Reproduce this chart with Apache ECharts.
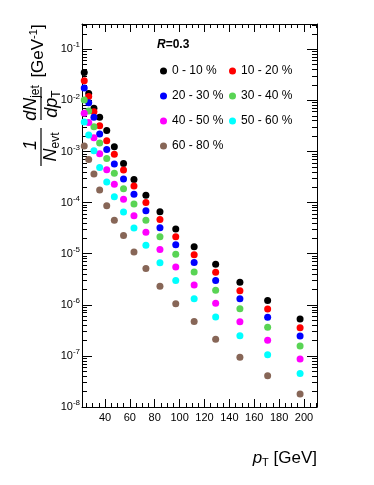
<!DOCTYPE html>
<html>
<head>
<meta charset="utf-8">
<script src="https://cdn.jsdelivr.net/npm/echarts@6/dist/echarts.min.js"></script>
<style>
  html, body { margin: 0; padding: 0; background: #fff; }
  #chart { width: 374px; height: 485px; }
</style>
</head>
<body>
<div id="chart"></div>
<script>
// jet pT bin centres (GeV)
const ptBins = [23.3, 26.9, 31.1, 35.7, 41.4, 47.5, 54.9, 63.3, 72.9, 84.2, 96.9, 111.7, 129.0, 148.5, 170.8, 196.9];

// 1/Nevt dN/dpT per centrality class
const c0_10  = [3.5e-2, 1.37e-2, 7.0e-3, 4.67e-3, 2.58e-3, 1.24e-3, 5.8e-4, 2.83e-4, 1.39e-4, 6.6e-5, 3.04e-5, 1.37e-5, 6.2e-6, 2.75e-6, 1.22e-6, 5.3e-7];
const c10_20 = [2.43e-2, 1.19e-2, 6.0e-3, 3.18e-3, 1.63e-3, 8.8e-4, 4.34e-4, 2.11e-4, 1.01e-4, 4.67e-5, 2.14e-5, 9.55e-6, 4.33e-6, 1.89e-6, 8.3e-7, 3.56e-7];
const c20_30 = [1.75e-2, 9.0e-3, 4.67e-3, 2.2e-3, 1.1e-3, 5.7e-4, 2.9e-4, 1.45e-4, 6.9e-5, 3.23e-5, 1.49e-5, 6.7e-6, 2.99e-6, 1.32e-6, 5.7e-7, 2.45e-7];
const c30_40 = [1.02e-2, 6.2e-3, 3.06e-3, 1.47e-3, 7.3e-4, 3.74e-4, 1.87e-4, 9.4e-5, 4.53e-5, 2.14e-5, 9.8e-6, 4.39e-6, 1.92e-6, 8.4e-7, 3.63e-7, 1.56e-7];
const c40_50 = [5.6e-3, 3.7e-3, 1.86e-3, 9.0e-4, 4.4e-4, 2.28e-4, 1.16e-4, 5.5e-5, 2.62e-5, 1.21e-5, 5.5e-6, 2.44e-6, 1.07e-6, 4.67e-7, 2.02e-7, 8.7e-8];
const c50_60 = [3.78e-3, 2.1e-3, 1.04e-3, 4.86e-4, 2.53e-4, 1.3e-4, 6.55e-5, 3.18e-5, 1.46e-5, 6.67e-6, 2.99e-6, 1.32e-6, 5.77e-7, 2.48e-7, 1.05e-7, 4.5e-8];
const c60_80 = [1.28e-3, 7.0e-4, 3.63e-4, 1.77e-4, 8.7e-5, 4.5e-5, 2.27e-5, 1.08e-5, 5.13e-6, 2.3e-6, 1.05e-6, 4.71e-7, 2.12e-7, 9.4e-8, 4.09e-8, 1.8e-8];

const classNames = ['0 - 10 %', '10 - 20 %', '20 - 30 %', '30 - 40 %', '40 - 50 %', '50 - 60 %', '60 - 80 %'];
const classValues = [c0_10, c10_20, c20_30, c30_40, c40_50, c50_60, c60_80];
const classColors = ['#000000', '#ff0000', '#0000ff', '#59d454', '#ff00ff', '#00ffff', '#876657'];

// axis ticks
const xTickLabels = [40, 60, 80, 100, 120, 140, 160, 180, 200];
const yDecades = [-8, -7, -6, -5, -4, -3, -2, -1];

const X_MIN = 21.5, X_MAX = 210.5;
const Y_MIN = -8, Y_MAX = -0.505;   // log10 space

const xMinor = [];
for (let v = 25; v <= 210; v += 5) {
    if (v % 20 !== 0) xMinor.push(v);
}
const yMinor = [];
yDecades.forEach(d => {
    for (let k = 2; k <= 9; k++) {
        const v = d + Math.log10(k);
        if (v < Y_MAX) yMinor.push(v);
    }
});

const FONT = 'Liberation Sans';
const chart = echarts.init(document.getElementById('chart'));

function xAxisOf(position, ticks, len, withLabel) {
    return {
        type: 'value', min: X_MIN, max: X_MAX, position: position,
        axisLine: { show: withLabel !== null, onZero: false, lineStyle: { color: '#000', width: 1 } },
        axisTick: { show: true, inside: true, length: len, customValues: ticks, lineStyle: { color: '#000' } },
        axisLabel: withLabel ? {
            show: true, customValues: xTickLabels, color: '#000', fontFamily: FONT, fontSize: 11, margin: 5
        } : { show: false },
        splitLine: { show: false }
    };
}

function yAxisOf(position, ticks, len, withLabel) {
    return {
        type: 'value', min: Y_MIN, max: Y_MAX, position: position,
        axisLine: { show: withLabel !== null, onZero: false, lineStyle: { color: '#000', width: 1 } },
        axisTick: { show: true, inside: true, length: len, customValues: ticks, lineStyle: { color: '#000' } },
        axisLabel: withLabel ? {
            show: true, customValues: yDecades, margin: 2,
            formatter: v => '{b|10}{s|' + v + '}',
            rich: {
                b: { fontFamily: FONT, fontSize: 11, color: '#000' },
                s: { fontFamily: FONT, fontSize: 8, color: '#000', padding: [0, 0, 8, 0] }
            }
        } : { show: false },
        splitLine: { show: false }
    };
}

const series = classNames.map((name, i) => ({
    name: name,
    type: 'scatter',
    symbol: 'circle',
    symbolSize: 7,
    itemStyle: { color: classColors[i], opacity: 1 },
    data: ptBins.map((pt, j) => [pt, Math.log10(classValues[i][j])])
}));

const legendCommon = {
    orient: 'vertical', top: 64, padding: 0, itemGap: 11,
    icon: 'circle', itemWidth: 7, itemHeight: 7,
    itemStyle: { opacity: 1 },
    textStyle: { fontFamily: FONT, fontSize: 12, color: '#000', lineHeight: 14 }
};

const option = {
    animation: false,
    grid: { left: 82, top: 24, right: 57, bottom: 78 },
    xAxis: [
        xAxisOf('bottom', xTickLabels, 8, true),
        xAxisOf('bottom', xMinor, 4, null),
        xAxisOf('top', xTickLabels, 8, false),
        xAxisOf('top', xMinor, 4, null)
    ],
    yAxis: [
        yAxisOf('left', yDecades, 10, true),
        yAxisOf('left', yMinor, 5, null),
        yAxisOf('right', yDecades, 10, false),
        yAxisOf('right', yMinor, 5, null)
    ],
    legend: [
        Object.assign({ left: 160, data: [classNames[0], classNames[2], classNames[4], classNames[6]] }, legendCommon),
        Object.assign({ left: 229, data: [classNames[1], classNames[3], classNames[5]] }, legendCommon)
    ],
    series: series,
    graphic: [
        {
            type: 'text', left: 157, top: 39,
            style: {
                text: '{i|R}{n|=0.3}',
                rich: {
                    i: { fontFamily: FONT, fontSize: 12, fontWeight: 'bold', fontStyle: 'italic', fill: '#000' },
                    n: { fontFamily: FONT, fontSize: 12, fontWeight: 'bold', fill: '#000' }
                }
            }
        },
        {
            type: 'text', right: 57, top: 450,
            style: {
                text: '{i|p}{sub|T}{n| [GeV]}',
                rich: {
                    i: { fontFamily: FONT, fontSize: 17, fontStyle: 'italic', fill: '#000' },
                    sub: { fontFamily: FONT, fontSize: 11, fill: '#000', padding: [9, 0, 0, 0] },
                    n: { fontFamily: FONT, fontSize: 17, fill: '#000' }
                }
            }
        },
        // y title: 1/Nevt dNjet/dpT [GeV^-1], drawn rotated
        {
            type: 'group', x: 41, y: 167, rotation: Math.PI / 2,
            children: [
                { type: 'text', x: 22, y: -10, style: {
                    text: '1', align: 'center', verticalAlign: 'middle',
                    fontFamily: FONT, fontSize: 18, fontStyle: 'italic', fill: '#000' } },
                { type: 'line', shape: { x1: 1, y1: 0, x2: 39, y2: 0 }, style: { stroke: '#000', lineWidth: 1.2 } },
                { type: 'text', x: 20, y: 10, style: {
                    text: '{i|N}{sub|evt}', align: 'center', verticalAlign: 'middle',
                    rich: {
                        i: { fontFamily: FONT, fontSize: 18, fontStyle: 'italic', fill: '#000' },
                        sub: { fontFamily: FONT, fontSize: 12, fill: '#000', padding: [9, 0, 0, 0] }
                    } } },
                { type: 'text', x: 64, y: -10, style: {
                    text: '{i|dN}{sub|jet}', align: 'center', verticalAlign: 'middle',
                    rich: {
                        i: { fontFamily: FONT, fontSize: 18, fontStyle: 'italic', fill: '#000' },
                        sub: { fontFamily: FONT, fontSize: 12, fill: '#000', padding: [9, 0, 0, 0] }
                    } } },
                { type: 'line', shape: { x1: 47, y1: 0, x2: 80, y2: 0 }, style: { stroke: '#000', lineWidth: 1.2 } },
                { type: 'text', x: 63, y: 11, style: {
                    text: '{i|dp}{sub|T}', align: 'center', verticalAlign: 'middle',
                    rich: {
                        i: { fontFamily: FONT, fontSize: 18, fontStyle: 'italic', fill: '#000' },
                        sub: { fontFamily: FONT, fontSize: 12, fill: '#000', padding: [9, 0, 0, 0] }
                    } } },
                { type: 'text', x: 116, y: -3, style: {
                    text: '{n|[GeV}{sup|-1}{n|]}', align: 'center', verticalAlign: 'middle',
                    rich: {
                        n: { fontFamily: FONT, fontSize: 17, fill: '#000' },
                        sup: { fontFamily: FONT, fontSize: 11, fill: '#000', padding: [0, 0, 9, 0] }
                    } } }
            ]
        }
    ]
};

chart.setOption(option);
window.addEventListener('resize', () => chart.resize());
</script>
</body>
</html>
